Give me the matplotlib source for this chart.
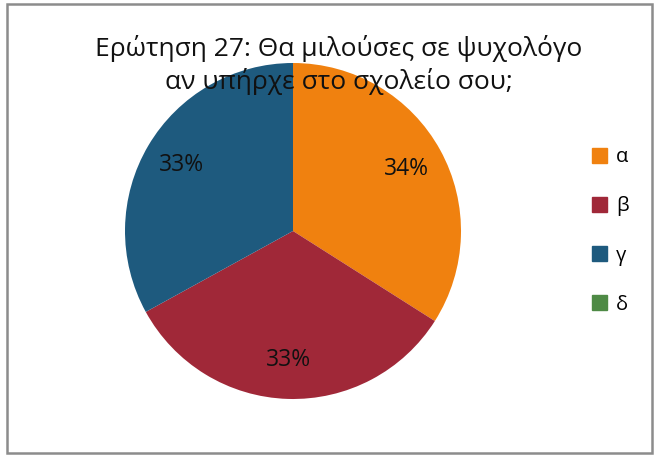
import matplotlib
matplotlib.use("Agg")
import matplotlib.pyplot as plt
from matplotlib.patches import Rectangle

plt.rcParams['font.family'] = ['Open Sans', 'DejaVu Sans']

labels = ['α', 'β', 'γ', 'δ']
values = [34, 33, 33, 0]
colors = ['#F0810F', '#A02838', '#1E5A7E', '#4E8A45']
title = 'Ερώτηση 27: Θα μιλούσες σε ψυχολόγο\nαν υπήρχε στο σχολείο σου;'

fig = plt.figure(figsize=(6.54, 4.57), dpi=100)
W, H = 654, 457

# frame around the chart
fig.patches.append(Rectangle((7 / W, 4 / H), 645 / W, 449 / H, transform=fig.transFigure,
                             fill=False, edgecolor='#8C8C8C', linewidth=1.8))

# pie: centre (293, 231), radius ~168 px
r = 168
ax = fig.add_axes([(293 - r) / W, 1 - (231 + r) / H, 2 * r / W, 2 * r / H])

def fmt(p):
    return '%d%%' % round(p) if p > 0 else ''

wedges, texts, autotexts = ax.pie(values, colors=colors, startangle=90, counterclock=False,
                                  autopct=fmt, pctdistance=0.77, radius=1,
                                  wedgeprops=dict(linewidth=0),
                                  textprops=dict(fontsize=16.5, color='#111111'))
ax.set_xlim(-1, 1)
ax.set_ylim(-1, 1)
ax.set_aspect('equal')

fig.text(339 / W, 1 - 65 / H, title, ha='center', va='center', fontsize=19,
         color='#111111', linespacing=1.3)

handles = [Rectangle((0, 0), 1, 1, color=c) for c in colors]
fig.legend(handles, labels, loc='center left', bbox_to_anchor=(574 / W, 1 - 231 / H),
           frameon=False, fontsize=14.5, handlelength=0.75, handleheight=0.75,
           handletextpad=0.45, labelspacing=1.45)

fig.savefig('out.png', dpi=100)
